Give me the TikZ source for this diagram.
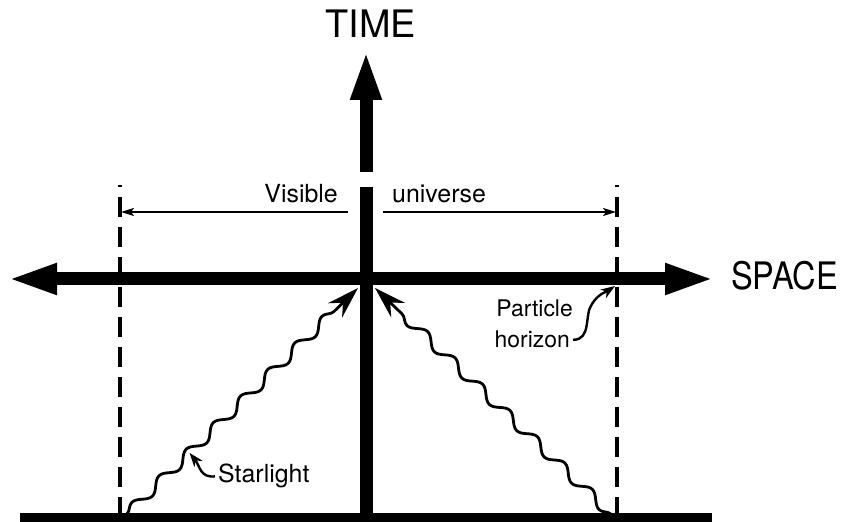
\documentclass[tikz,border=0pt]{standalone}
\usepackage{fontspec}
\setmainfont{TeX Gyre Heros}
\usepackage{tikz}
\usetikzlibrary{arrows.meta, calc, decorations.pathmorphing}
\definecolor{ink}{HTML}{000000}
\tikzset{
  axis/.style   ={line width=13bp, draw=ink},
  axisarrow/.style ={axis, -{Triangle[length=50bp,width=28bp]}},
  ground/.style ={line width=9bp, draw=ink},
  horizon/.style={line width=3.2bp, draw=ink, dash pattern=on 20bp off 10bp},
  dimline/.style={line width=1.8bp, draw=ink, -{Stealth[length=13bp,width=8bp,inset=3bp]}},
  wave/.style   ={line width=2.8bp, draw=ink, decorate,
                  decoration={snake, amplitude=5bp, segment length=38bp,
                              pre length=4bp, post length=26bp},
                  -{Stealth[length=32bp,width=20bp,inset=11bp]}},
  leader/.style ={line width=2.4bp, draw=ink, -{Stealth[length=14bp,width=10bp,inset=4bp]}},
  big/.style    ={inner sep=0pt, font=\fontsize{38}{42}\selectfont},
  lbl/.style    ={inner sep=0pt, font=\fontsize{25}{29}\selectfont},
  small/.style  ={inner sep=0pt, font=\fontsize{23}{27}\selectfont}
}
\begin{document}
\begin{tikzpicture}[x=1bp, y=1bp]
  \useasboundingbox (0,0) rectangle (846,522);

  % axes
  \coordinate (tbot) at (366,0);
  \coordinate (tlow) at (366,335);
  \coordinate (tup)  at (366,350);
  \coordinate (ttip) at (366,472);
  \coordinate (sleft)  at (7,243);
  \coordinate (sright) at (715,243);
  \draw[axis] (tbot) -- (tlow);
  \draw[axisarrow] (tup) -- (ttip);
  \draw[axis, {Triangle[length=50bp,width=28bp]}-{Triangle[length=50bp,width=28bp]}]
       (sleft) -- (sright);

  % ground line
  \coordinate (gl) at (20,4);
  \coordinate (gr) at (712,4);
  \draw[ground] (gl) -- (gr);

  % particle horizons
  \coordinate (hl0) at (120,5);   \coordinate (hl1) at (120,337);
  \coordinate (hr0) at (617,5);   \coordinate (hr1) at (617,337);
  \draw[horizon] (hl0) -- (hl1);
  \draw[horizon] (hr0) -- (hr1);

  % visible universe
  \coordinate (dl0) at (348,310); \coordinate (dl1) at (121,310);
  \coordinate (dr0) at (383,310); \coordinate (dr1) at (616,310);
  \draw[dimline] (dl0) -- (dl1);
  \draw[dimline] (dr0) -- (dr1);

  % starlight
  \coordinate (wl0) at (124,5);  \coordinate (wl1) at (358,234);
  \coordinate (wr0) at (614,5);  \coordinate (wr1) at (375,234);
  \draw[wave] (wl0) -- (wl1);
  \draw[wave] (wr0) -- (wr1);

  % labels
  \node[big, anchor=base]      (time)     at (371,484) {TIME};
  \node[big, anchor=base west] (space)    at (731,232) {\scalebox{0.86}[1]{SPACE}};
  \node[lbl, anchor=base east] (visible)  at (338,319) {Visible};
  \node[lbl, anchor=base west] (universe) at (392,319) {universe};
  \node[small, anchor=base east] (particle) at (573,205) {Particle};
  \node[small, anchor=base east] (horizon)  at (570,174) {horizon};
  \node[lbl, anchor=base west] (starlight) at (218,39) {Starlight};

  \coordinate (starhit) at ($(wl0)!0.28!(wl1)$);
  \draw[leader] ([xshift=-3bp]starlight.west) .. controls (200,44) and (200,56) .. (starhit);
  \draw[leader] ([xshift=3bp]horizon.east) .. controls (592,182) and (584,208) .. (592,218)
                .. controls (598,228) and (606,230) .. (615,236);
\end{tikzpicture}
\end{document}
